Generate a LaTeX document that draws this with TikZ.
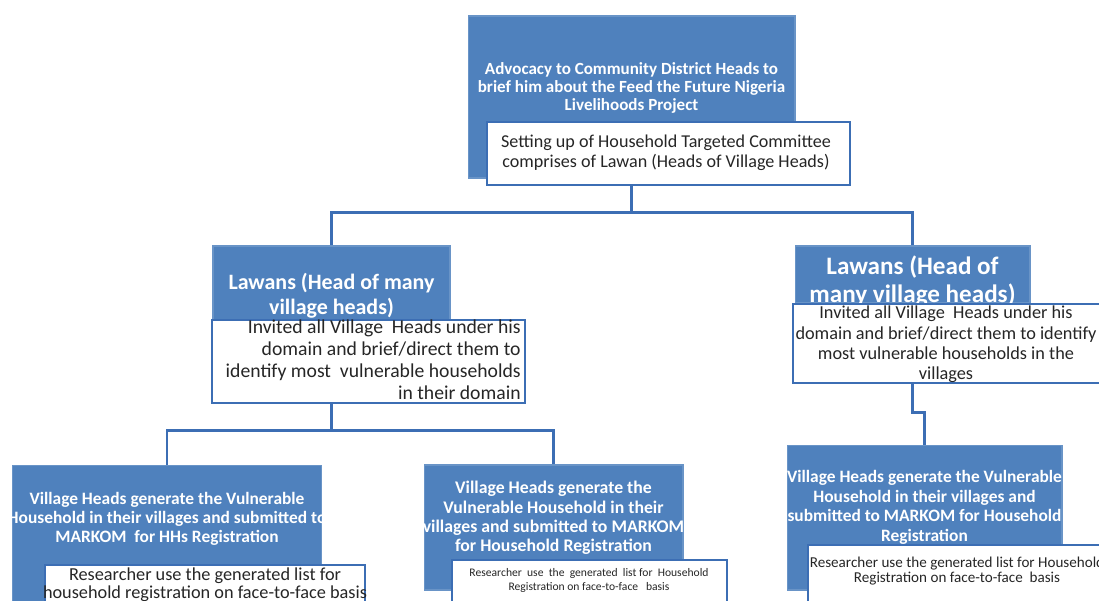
\documentclass[tikz,border=0pt]{standalone}
\usepackage{fontspec}
\setmainfont{Carlito}

\definecolor{boxblue}{HTML}{4F81BD}
\definecolor{edgeblue}{HTML}{3C6EB4}
\definecolor{txtgray}{HTML}{262626}

\tikzset{
  bluebox/.style={fill=boxblue, draw=boxblue!85!white, line width=0.6pt, inner sep=0pt},
  whitebox/.style={fill=white, draw=edgeblue, line width=1.3pt, inner sep=0pt},
  bluetxt/.style 2 args={text=white, align=center, inner sep=0pt,
    font=\fontsize{#1}{#2}\selectfont\bfseries},
  greytxt/.style 2 args={text=txtgray, align=center, inner sep=0pt,
    font=\fontsize{#1}{#2}\selectfont},
  conn/.style={draw=edgeblue, line width=1.7pt},
}

\begin{document}
\begin{tikzpicture}[x=0.02cm,y=-0.02cm]
    \path[use as bounding box, clip] (0,0) rectangle (1099,600);
    \fill[white] (0,0) rectangle (1099,600);

    % connectors (behind the boxes)
    \coordinate (j1) at (631.5,212);
    \coordinate (j2) at (331.5,430);
    \coordinate (j3) at (924.5,412);

    % level 1
    \node[bluebox, minimum width=6.54cm, minimum height=3.24cm] (adv) at (631.5,97) {};
    % level 2
    \node[bluebox, minimum width=4.74cm, minimum height=1.48cm] (lawL) at (331.5,283) {};
    \node[bluebox, minimum width=4.70cm, minimum height=1.14cm] (lawR) at (912.5,274.5) {};
    % level 3
    \node[bluebox, minimum width=6.2cm, minimum height=2.9cm] (vhL) at (167,537.5) {};
    \node[bluebox, minimum width=5.18cm, minimum height=2.5cm] (vhM) at (553.5,527.5) {};
    \node[bluebox, minimum width=5.5cm, minimum height=2.9cm] (vhR) at (924.5,517.5) {};

    \draw[conn] (adv.south) -- (j1) -| (lawL.north);
    \draw[conn] (j1) -| (lawR.north);
    \draw[conn] (lawL.south) -- (j2) -| (vhL.north);
    \draw[conn] (j2) -| (vhM.north);
    \draw[conn] (lawR.south) |- (j3) -- (vhR.north);

    \node[bluetxt={9.7}{10.3}] (advtxt) at (631.5,88)
      {Advocacy to Community District Heads to\\brief him about the Feed the Future Nigeria\\Livelihoods Project};
    \node[whitebox, minimum width=7.26cm, minimum height=1.26cm] (setup) at (668.5,153.5) {};
    \node[greytxt={10.3}{11.3}] (setuptxt) at (666,153)
      {Setting up of Household Targeted Committee\\comprises of Lawan (Heads of Village Heads)};

    \node[bluetxt={12.5}{14.2}] (lawLtxt) at (331.5,295.5) {Lawans (Head of many\\village heads)};
    \node[whitebox, minimum width=6.26cm, minimum height=1.66cm] (lawLw) at (368.5,361.5) {};
    \node[greytxt={11.2}{12.5}, align=right, anchor=east] (lawLwtxt) at (521,360)
      {Invited all Village\ \ Heads under his\\domain and brief/direct them to\\identify most\ \ vulnerable households\\in their domain};

    \node[bluetxt={14.3}{15.9}] (lawRtxt) at (912.5,281) {Lawans (Head of\\many village heads)};
    \node[whitebox, minimum width=6.24cm, minimum height=1.58cm] (lawRw) at (949,343.5) {};
    \node[greytxt={10.4}{11.5}] (lawRwtxt) at (946,344.5)
      {Invited all Village\ \ Heads under his\\domain and brief/direct them to identify\\most vulnerable households in the\\villages};

    \node[bluetxt={9.9}{10.8}] (vhLtxt) at (167,519)
      {Village Heads generate the Vulnerable\\Household in their villages and submitted to\\MARKOM\ \ for HHs Registration};
    \node[whitebox, minimum width=6.4cm, minimum height=0.9cm] (vhLw) at (205,587.5) {};
    \node[greytxt={10.4}{8.8}] (vhLwtxt) at (205,584.5)
      {Researcher use the generated list for\\household registration on face-to-face basis};

    \node[bluetxt={10.1}{11}] (vhMtxt) at (553.5,518)
      {Village Heads generate the\\Vulnerable Household in their\\villages and submitted to MARKOM\\for Household Registration};
    \node[whitebox, minimum width=5.5cm, minimum height=0.9cm] (vhMw) at (589.5,582.5) {};
    \node[greytxt={6.6}{8}] (vhMwtxt) at (589,580)
      {Researcher\ \ use\ \ the\ \ generated\ \ list\ for\ \ Household\\Registration on face-to-face\ \ \ basis};

    \node[bluetxt={9.9}{11.2}] (vhRtxt) at (924.5,507.5)
      {Village Heads generate the Vulnerable\\Household in their villages and\\submitted to MARKOM for Household\\Registration};
    \node[whitebox, minimum width=5.94cm, minimum height=1.2cm] (vhRw) at (956.5,575) {};
    \node[greytxt={8.6}{9}] (vhRwtxt) at (957,571)
      {Researcher use the generated list for Household\\Registration on face-to-face\ \ basis};
\end{tikzpicture}
\end{document}
